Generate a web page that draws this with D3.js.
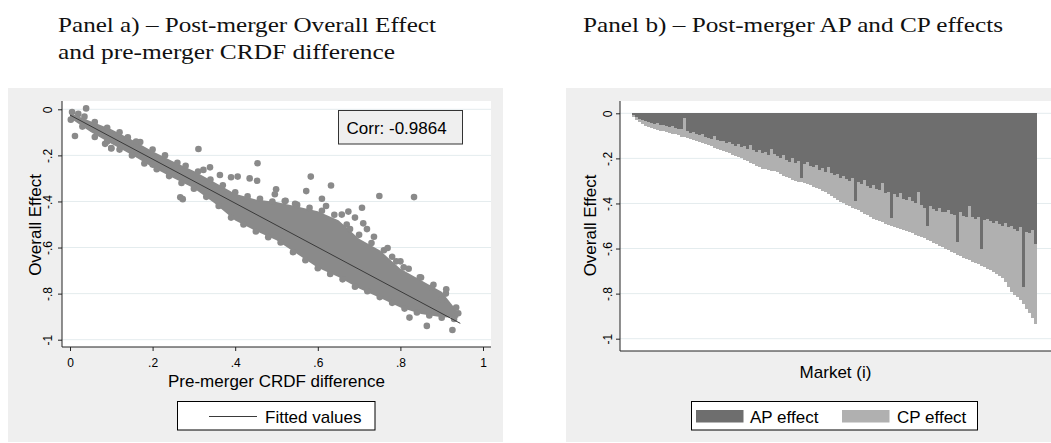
<!DOCTYPE html>
<html>
<head>
<meta charset="utf-8">
<script src="https://cdn.jsdelivr.net/npm/d3@7"></script>
<style>
  html, body { margin: 0; padding: 0; background: #ffffff; }
  svg { display: block; }
</style>
</head>
<body>
<svg id="chart" width="1051" height="443"></svg>
<script>
// ---------- Panel a: overall effect vs pre-merger CRDF difference ----------
const xTickValues = [0, 0.2, 0.4, 0.6, 0.8, 1];
const xTickLabels = ["0", ".2", ".4", ".6", ".8", "1"];
const yTickValues = [0, -0.2, -0.4, -0.6, -0.8, -1];
const yTickLabels = ["0", "-.2", "-.4", "-.6", "-.8", "-1"];

// dense core of the scatter cloud (x, upper and lower edge)
const cloudX  = [0, 0.05, 0.1, 0.15, 0.2, 0.25, 0.3, 0.35, 0.4, 0.45, 0.5, 0.55, 0.6, 0.65, 0.7, 0.75, 0.8, 0.85, 0.9, 0.94];
const cloudHi = [-0.016, -0.052, -0.087, -0.132, -0.182, -0.227, -0.268, -0.317, -0.367, -0.392, -0.402, -0.422, -0.442, -0.482, -0.562, -0.612, -0.692, -0.742, -0.792, -0.882];
const cloudLo = [-0.038, -0.098, -0.15, -0.198, -0.251, -0.298, -0.343, -0.408, -0.483, -0.528, -0.568, -0.628, -0.688, -0.728, -0.778, -0.818, -0.86, -0.888, -0.903, -0.905];

// individual markets: pre-merger CRDF difference and overall effect
const crdfDiff = [
  0.005, 0.02, 0.035, 0.06, 0.09, 0.12, 0.14, 0.17, 0.2, 0.23, 0.26, 0.28, 0.31, 0.34, 0.37, 0.4, 0.43, 0.46, 0.49, 0.52, 0.55, 0.58, 0.61, 0.64, 0.67, 0.7, 0.73, 0.76, 0.79, 0.82, 0.85, 0.88, 0.91, 0.935,
  0.002, 0.03, 0.06, 0.085, 0.1, 0.12, 0.15, 0.18, 0.21, 0.24, 0.27, 0.3, 0.33, 0.36, 0.39, 0.42, 0.45, 0.48, 0.51, 0.54, 0.57, 0.6, 0.63, 0.66, 0.69, 0.72, 0.75, 0.78, 0.81, 0.84, 0.87, 0.9, 0.93,
  0.039, 0.012, 0.311, 0.454, 0.339, 0.323, 0.363, 0.39, 0.406, 0.435, 0.453, 0.583, 0.499, 0.496, 0.572, 0.632, 0.61, 0.749, 0.833, 0.707,
  0.674, 0.658, 0.719, 0.678, 0.736, 0.769, 0.522, 0.267, 0.273, 0.822, 0.864, 0.926, 0.911, 0.94, 0.808, 0.847, 0.876, 0.9, 0.545, 0.62,
  0.69, 0.71, 0.78, 0.8, 0.16, 0.09, 0.1, 0.18, 0.2, 0.24
];
const overallEffect = [
  -0.012, -0.02, -0.032, -0.055, -0.08, -0.1, -0.122, -0.142, -0.175, -0.2, -0.232, -0.245, -0.27, -0.305, -0.33, -0.36, -0.378, -0.388, -0.4, -0.398, -0.415, -0.428, -0.44, -0.458, -0.5, -0.545, -0.58, -0.612, -0.66, -0.692, -0.73, -0.762, -0.8, -0.86,
  -0.045, -0.075, -0.12, -0.15, -0.168, -0.175, -0.2, -0.235, -0.26, -0.29, -0.32, -0.345, -0.38, -0.42, -0.47, -0.5, -0.53, -0.555, -0.578, -0.62, -0.655, -0.69, -0.715, -0.738, -0.77, -0.79, -0.815, -0.84, -0.865, -0.882, -0.895, -0.905, -0.91,
  0.004, -0.116, -0.172, -0.234, -0.252, -0.263, -0.285, -0.295, -0.292, -0.3, -0.31, -0.292, -0.347, -0.369, -0.355, -0.331, -0.388, -0.376, -0.381, -0.427,
  -0.444, -0.457, -0.52, -0.52, -0.553, -0.602, -0.397, -0.382, -0.39, -0.904, -0.94, -0.958, -0.781, -0.885, -0.686, -0.729, -0.774, -0.825, -0.41, -0.42,
  -0.47, -0.495, -0.64, -0.66, -0.14, -0.14, -0.17, -0.2, -0.24, -0.265
];

// fitted regression line end points
const fittedX = [0, 0.945];
const fittedY = [-0.025, -0.929];
const corrLabel = "Corr: -0.9864";

// ---------- Panel b: AP and CP effects per market, sorted ----------
const marketOverall = [
  -0.015, -0.03, -0.04, -0.048, -0.055, -0.06, -0.064, -0.069, -0.073, -0.077,
  -0.08, -0.083, -0.086, -0.09, -0.093, -0.098, -0.103, -0.107, -0.111, -0.115,
  -0.12, -0.124, -0.129, -0.133, -0.137, -0.142, -0.147, -0.152, -0.157, -0.162,
  -0.167, -0.172, -0.178, -0.183, -0.188, -0.194, -0.199, -0.205, -0.212, -0.219,
  -0.226, -0.233, -0.24, -0.245, -0.249, -0.252, -0.255, -0.258, -0.262, -0.269,
  -0.276, -0.283, -0.289, -0.295, -0.299, -0.303, -0.307, -0.311, -0.315, -0.319,
  -0.325, -0.331, -0.337, -0.343, -0.349, -0.356, -0.365, -0.374, -0.383, -0.392,
  -0.4, -0.406, -0.412, -0.418, -0.424, -0.43, -0.437, -0.445, -0.453, -0.461,
  -0.468, -0.474, -0.479, -0.484, -0.49, -0.495, -0.5, -0.504, -0.509, -0.513,
  -0.518, -0.523, -0.528, -0.533, -0.539, -0.544, -0.55, -0.555, -0.561, -0.567,
  -0.574, -0.581, -0.588, -0.595, -0.601, -0.608, -0.614, -0.621, -0.628, -0.634,
  -0.64, -0.646, -0.652, -0.658, -0.664, -0.67, -0.677, -0.684, -0.69, -0.697,
  -0.704, -0.712, -0.72, -0.732, -0.748, -0.77, -0.795, -0.806, -0.817, -0.83,
  -0.845, -0.868, -0.888, -0.91, -0.935
];
const apEffect = [
  -0.008, -0.018, -0.026, -0.028, -0.035, -0.04, -0.041, -0.047, -0.045, -0.052,
  -0.05, -0.057, -0.06, -0.058, -0.066, -0.071, -0.069, -0.022, -0.08, -0.086,
  -0.083, -0.092, -0.097, -0.09, -0.104, -0.108, -0.112, -0.102, -0.118, -0.125,
  -0.121, -0.13, -0.126, -0.138, -0.145, -0.136, -0.15, -0.147, -0.158, -0.142,
  -0.164, -0.17, -0.162, -0.176, -0.172, -0.185, -0.16, -0.182, -0.19, -0.2,
  -0.186, -0.205, -0.214, -0.198, -0.22, -0.212, -0.285, -0.226, -0.218, -0.236,
  -0.24, -0.228, -0.25, -0.244, -0.262, -0.238, -0.264, -0.275, -0.268, -0.285,
  -0.276, -0.292, -0.3, -0.288, -0.39, -0.304, -0.312, -0.296, -0.322, -0.33,
  -0.318, -0.335, -0.342, -0.31, -0.352, -0.348, -0.465, -0.36, -0.37, -0.355,
  -0.378, -0.384, -0.372, -0.39, -0.398, -0.35, -0.405, -0.418, -0.5, -0.41,
  -0.425, -0.432, -0.418, -0.436, -0.44, -0.43, -0.445, -0.452, -0.57, -0.44,
  -0.455, -0.46, -0.41, -0.462, -0.47, -0.458, -0.6, -0.475, -0.468, -0.48,
  -0.488, -0.476, -0.492, -0.5, -0.485, -0.505, -0.498, -0.512, -0.52, -0.505,
  -0.77, -0.525, -0.532, -0.518, -0.58
];
const seriesNames = ["AP effect", "CP effect"];

// ---------- styling ----------
const BG = "#efefef", GRID = "#e4ecee", DOT = "#8a8a8a";
const AP_COL = "#6e6e6e", CP_COL = "#b0b0b0", AXIS = "#222";
const SANS = "'Liberation Sans', Arial, sans-serif";
const SERIF = "'Liberation Serif', 'Times New Roman', serif";

const svg = d3.select("#chart");

// panel titles
function title(x, y, txt, len) {
  svg.append("text").attr("x", x).attr("y", y)
    .attr("font-family", SERIF).attr("font-size", 22).attr("fill", "#111")
    .attr("textLength", len).attr("lengthAdjust", "spacingAndGlyphs")
    .text(txt);
}
title(58, 32, "Panel a) \u2013 Post-merger Overall Effect", 378);
title(58, 59, "and pre-merger CRDF difference", 337);
title(583, 32, "Panel b) \u2013 Post-merger AP and CP effects", 420);

// ---------- Panel a ----------
const A = { bgX: 8, bgY: 88, bgW: 495, bgH: 354, L: 62, T: 101, R: 491, B: 347 };
svg.append("rect").attr("x", A.bgX).attr("y", A.bgY).attr("width", A.bgW).attr("height", A.bgH).attr("fill", BG);
svg.append("rect").attr("x", A.L).attr("y", A.T).attr("width", A.R - A.L).attr("height", A.B - A.T).attr("fill", "#fff");

const xA = d3.scaleLinear().domain([0, 1]).range([70, 483]);
const yA = d3.scaleLinear().domain([-1, 0]).range([339.7, 109.3]);

const gA = svg.append("g");
gA.selectAll("line.grid").data(yTickValues).join("line")
  .attr("x1", A.L).attr("x2", A.R).attr("y1", d => yA(d)).attr("y2", d => yA(d))
  .attr("stroke", GRID).attr("stroke-width", 1);

// scatter cloud
const cloud = cloudX.map((x, i) => ({ x, hi: cloudHi[i], lo: cloudLo[i] }));
gA.append("path").datum(cloud)
  .attr("d", d3.area().x(d => xA(d.x)).y0(d => yA(d.lo)).y1(d => yA(d.hi)))
  .attr("fill", DOT);
gA.selectAll("circle").data(crdfDiff.map((x, i) => ({ x, y: overallEffect[i] }))).join("circle")
  .attr("cx", d => xA(d.x)).attr("cy", d => yA(d.y)).attr("r", 3.3).attr("fill", DOT);

// fitted values
gA.append("path").datum(fittedX.map((x, i) => ({ x, y: fittedY[i] })))
  .attr("d", d3.line().x(d => xA(d.x)).y(d => yA(d.y)))
  .attr("fill", "none").attr("stroke", "#3a3a3a").attr("stroke-width", 1);

// axes
const axA_y = svg.append("g").attr("transform", `translate(${A.L},0)`)
  .call(d3.axisLeft(yA).tickValues(yTickValues).tickFormat((d, i) => yTickLabels[i]).tickSize(4).tickSizeOuter(0));
const axA_x = svg.append("g").attr("transform", `translate(0,${A.B})`)
  .call(d3.axisBottom(xA).tickValues(xTickValues).tickFormat((d, i) => xTickLabels[i]).tickSize(4).tickPadding(7).tickSizeOuter(0));
[axA_y, axA_x].forEach(g => {
  g.select(".domain").remove();
  g.selectAll("line").attr("stroke", AXIS);
  g.selectAll("text").attr("font-family", SANS).attr("font-size", 12).attr("fill", "#000");
});
axA_y.selectAll("text").attr("x", null).attr("dy", null).attr("text-anchor", "middle")
  .attr("transform", "translate(-10,0) rotate(-90)");
svg.append("line").attr("x1", A.L).attr("x2", A.L).attr("y1", A.T).attr("y2", A.B).attr("stroke", AXIS);
svg.append("line").attr("x1", A.L).attr("x2", A.R).attr("y1", A.B).attr("y2", A.B).attr("stroke", AXIS);

svg.append("text").attr("transform", "translate(41,225) rotate(-90)").attr("text-anchor", "middle")
  .attr("font-family", SANS).attr("font-size", 17).text("Overall Effect");
svg.append("text").attr("x", (A.L + A.R) / 2).attr("y", 386.5).attr("text-anchor", "middle")
  .attr("font-family", SANS).attr("font-size", 17).text("Pre-merger CRDF difference");

// correlation box
svg.append("rect").attr("x", 338.5).attr("y", 110.5).attr("width", 124).attr("height", 33.5)
  .attr("fill", BG).attr("stroke", "#333").attr("stroke-width", 1);
svg.append("text").attr("x", 346.5).attr("y", 134).attr("font-family", SANS).attr("font-size", 17).text(corrLabel);

// legend a
svg.append("rect").attr("x", 177.5).attr("y", 401.5).attr("width", 197.5).attr("height", 28.5)
  .attr("fill", "#fff").attr("stroke", "#000").attr("stroke-width", 1);
svg.append("line").attr("x1", 209).attr("x2", 257).attr("y1", 416.5).attr("y2", 416.5).attr("stroke", "#3a3a3a");
svg.append("text").attr("x", 265).attr("y", 422.5).attr("font-family", SANS).attr("font-size", 17).text("Fitted values");

// ---------- Panel b ----------
const B = { bgX: 566, bgY: 88, bgW: 485, bgH: 354, L: 620, T: 101, R: 1051, B: 351 };
svg.append("rect").attr("x", B.bgX).attr("y", B.bgY).attr("width", B.bgW).attr("height", B.bgH).attr("fill", BG);
svg.append("rect").attr("x", B.L).attr("y", B.T).attr("width", B.R - B.L).attr("height", B.B - B.T).attr("fill", "#fff");

const markets = d3.range(1, marketOverall.length + 1);
const xB = d3.scaleBand().domain(markets).range([632, 1037]).padding(0);
const yB = d3.scaleLinear().domain([-1, 0]).range([338.7, 113.3]);

const gB = svg.append("g");
gB.selectAll("line.grid").data(yTickValues).join("line")
  .attr("x1", B.L).attr("x2", B.R).attr("y1", d => yB(d)).attr("y2", d => yB(d))
  .attr("stroke", GRID).attr("stroke-width", 1);

const rows = markets.map((m, i) => ({ m, ap: apEffect[i], total: marketOverall[i] }));
// CP part sits below the AP part, ending at the overall effect
gB.selectAll("rect.cp").data(rows).join("rect").attr("class", "cp")
  .attr("x", d => xB(d.m)).attr("width", xB.bandwidth() + 0.4)
  .attr("y", d => yB(d.ap)).attr("height", d => yB(d.total) - yB(d.ap))
  .attr("fill", CP_COL).attr("shape-rendering", "crispEdges");
gB.selectAll("rect.ap").data(rows).join("rect").attr("class", "ap")
  .attr("x", d => xB(d.m)).attr("width", xB.bandwidth() + 0.4)
  .attr("y", yB(0)).attr("height", d => yB(d.ap) - yB(0))
  .attr("fill", AP_COL).attr("shape-rendering", "crispEdges");

const axB_y = svg.append("g").attr("transform", `translate(${B.L},0)`)
  .call(d3.axisLeft(yB).tickValues(yTickValues).tickFormat((d, i) => yTickLabels[i]).tickSize(4).tickSizeOuter(0));
axB_y.select(".domain").remove();
axB_y.selectAll("line").attr("stroke", AXIS);
axB_y.selectAll("text").attr("font-family", SANS).attr("font-size", 12).attr("fill", "#000")
  .attr("x", null).attr("dy", null).attr("text-anchor", "middle")
  .attr("transform", "translate(-8.5,0) rotate(-90)");
svg.append("line").attr("x1", B.L).attr("x2", B.L).attr("y1", B.T).attr("y2", B.B).attr("stroke", AXIS);
svg.append("line").attr("x1", B.L).attr("x2", B.R).attr("y1", B.B).attr("y2", B.B).attr("stroke", AXIS);

svg.append("text").attr("transform", "translate(596,225.5) rotate(-90)").attr("text-anchor", "middle")
  .attr("font-family", SANS).attr("font-size", 17).text("Overall Effect");
svg.append("text").attr("x", (B.L + B.R) / 2).attr("y", 378).attr("text-anchor", "middle")
  .attr("font-family", SANS).attr("font-size", 17).text("Market (i)");

// legend b
svg.append("rect").attr("x", 691.5).attr("y", 401.5).attr("width", 286).attr("height", 28.5)
  .attr("fill", "#fff").attr("stroke", "#000").attr("stroke-width", 1);
const legB = [{ x: 696, tx: 750, c: AP_COL }, { x: 842, tx: 897, c: CP_COL }];
legB.forEach((l, i) => {
  svg.append("rect").attr("x", l.x).attr("y", 410).attr("width", 47.5).attr("height", 12.5).attr("fill", l.c);
  svg.append("text").attr("x", l.tx).attr("y", 423).attr("font-family", SANS).attr("font-size", 17).text(seriesNames[i]);
});
</script>
</body>
</html>
